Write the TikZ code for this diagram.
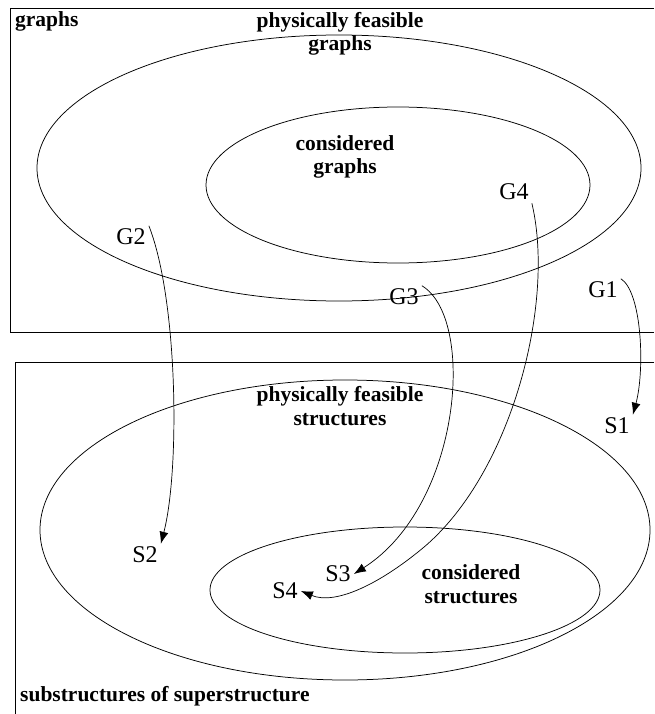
\documentclass[tikz,border=0pt]{standalone}
\usepackage{fontspec}
\setmainfont{Liberation Serif}
\usetikzlibrary{arrows.meta}
\begin{document}
\begin{tikzpicture}[x=1pt,y=-1pt,
  frame/.style={line width=0.9pt},
  setline/.style={line width=0.75pt},
  settitle/.style={font=\fontsize{21.5}{23.5}\selectfont\bfseries,align=center,inner sep=0pt},
  item/.style={font=\fontsize{24}{26}\selectfont,inner sep=3pt},
  mapsto/.style={line width=0.7pt,-{Latex[length=12pt,width=9pt]}}]
\useasboundingbox (0,0) rectangle (654,714);

% graph space
\draw[frame] (654,8) -- (10,8) -- (10,332) -- (654,332);
\node[settitle,anchor=west] (gtitle) at (15,21) {graphs};
\draw[setline] (339,168) ellipse [x radius=302pt, y radius=133pt];
\draw[setline] (398,185) ellipse [x radius=192pt, y radius=78pt];
\node[settitle] (pfg) at (340,34) {physically feasible\\graphs};
\node[settitle] (cg) at (345,157) {considered\\graphs};

% structure space
\draw[frame] (654,362) -- (15,362) -- (15,714);
\node[settitle,anchor=west] (stitle) at (20,696) {substructures of superstructure};
\draw[setline] (345,530) ellipse [x radius=305pt, y radius=150pt];
\draw[setline] (405,590) ellipse [x radius=195pt, y radius=63pt];
\node[settitle] (pfs) at (340,406) {physically feasible\\structures};
\node[settitle] (cs) at (471,584) {considered\\structures};

% graphs and their structures
\node[item] (G1) at (603,290) {G1};
\node[item] (G2) at (131,237) {G2};
\node[item] (G3) at (404,297) {G3};
\node[item] (G4) at (514,192) {G4};
\node[item] (S1) at (617,426) {S1};
\node[item] (S2) at (145,555) {S2};
\node[item] (S3) at (338,574) {S3};
\node[item] (S4) at (285,591) {S4};

\draw[mapsto] (G1.north east) .. controls (642,292) and (645,370) .. (S1.north east);
\draw[mapsto] (G2.north east) .. controls (178,300) and (180,470) .. (S2.north east);
\draw[mapsto] (G3.north east) .. controls (476,318) and (462,505) .. (S3.east);
\draw[mapsto] (G4.south east) .. controls (556,305) and (510,480) .. (418,552)
  .. controls (377,585) and (335,605) .. (S4.east);
\end{tikzpicture}
\end{document}
